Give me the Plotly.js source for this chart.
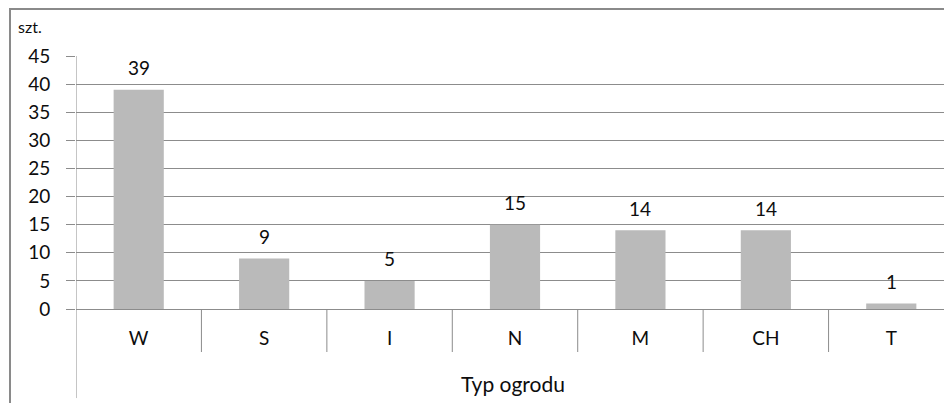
<!DOCTYPE html>
<html>
<head>
<meta charset="utf-8">
<script src="https://cdn.plot.ly/plotly-3.0.1.min.js"></script>
<style>
  html, body { margin: 0; padding: 0; background: #fff; overflow: hidden; width: 944px; height: 403px; }
  #wrap { position: relative; width: 944px; height: 403px; overflow: hidden; }
  #chart { position: absolute; left: 0; top: 0; }
  #frame { position: absolute; left: 9px; top: 8px; width: 960px; height: 420px;
           border-top: 2px solid #8a8a8a; border-left: 2px solid #8a8a8a; pointer-events: none; }
</style>
</head>
<body>
<div id="wrap">
  <div id="chart"></div>
  <div id="frame"></div>
</div>
<script>
// Garden types and number of gardens of each type
const categories = ['W', 'S', 'I', 'N', 'M', 'CH', 'T'];
const counts = [39, 9, 5, 15, 14, 14, 1];
const yTicks = [0, 5, 10, 15, 20, 25, 30, 35, 40, 45];

const FONT = 'Lato, "Open Sans", "DejaVu Sans", sans-serif';
const GRID = '#8c8c8c';
const INK = '#0d0d0d';

const trace = {
  type: 'bar',
  x: categories,
  y: counts,
  marker: { color: '#bababa' },
  hoverinfo: 'x+y'
};

// Category separators below the axis
const shapes = [];
for (let i = 0; i <= categories.length; i++) {
  shapes.push({
    type: 'line', xref: 'x', yref: 'paper',
    x0: i - 0.5, x1: i - 0.5, y0: 0, y1: i === 0 ? -0.352 : -0.17,
    line: { color: GRID, width: 1 }
  });
}
// Vertical value axis line
shapes.push({
  type: 'line', xref: 'x', yref: 'paper',
  x0: -0.5, x1: -0.5, y0: 0, y1: 1,
  line: { color: GRID, width: 1 }
});

// Value labels above each bar
const valueLabels = categories.map((c, i) => ({
  text: String(counts[i]), xref: 'x', yref: 'y',
  x: c, y: counts[i], xanchor: 'center', yanchor: 'middle',
  yshift: 22, showarrow: false,
  font: { family: FONT, size: 19, color: INK }
}));

const layout = {
  width: 960,
  height: 403,
  margin: { l: 76, r: 6, t: 56, b: 94 },
  paper_bgcolor: '#ffffff',
  plot_bgcolor: '#ffffff',
  showlegend: false,
  bargap: 0.6,
  font: { family: FONT, size: 19, color: INK },
  xaxis: {
    type: 'category',
    range: [-0.5, categories.length - 0.5],
    showline: false,
    showgrid: false,
    zeroline: false,
    ticks: '',
    ticklabelstandoff: 16,
    tickfont: { family: FONT, size: 19, color: INK },
    fixedrange: true
  },
  yaxis: {
    range: [0, 45],
    tickvals: yTicks,
    ticktext: yTicks.map(String),
    showgrid: true,
    gridcolor: GRID,
    gridwidth: 1,
    zeroline: true,
    zerolinecolor: GRID,
    zerolinewidth: 1,
    showline: false,
    ticks: 'outside',
    ticklen: 9,
    tickcolor: GRID,
    tickwidth: 1,
    ticklabelstandoff: 12,
    tickfont: { family: FONT, size: 19, color: INK },
    fixedrange: true
  },
  shapes: shapes,
  annotations: valueLabels.concat([
    {
      text: 'szt.', xref: 'paper', yref: 'paper',
      x: -0.068, y: 1.115, xanchor: 'left', yanchor: 'middle',
      showarrow: false, font: { family: FONT, size: 16, color: INK }
    },
    {
      text: 'Typ ogrodu', xref: 'paper', yref: 'paper',
      x: 0.498, y: -0.293, xanchor: 'center', yanchor: 'middle',
      showarrow: false, font: { family: FONT, size: 21, color: INK }
    }
  ])
};

Plotly.newPlot('chart', [trace], layout, { displayModeBar: false, staticPlot: true });
</script>
</body>
</html>
